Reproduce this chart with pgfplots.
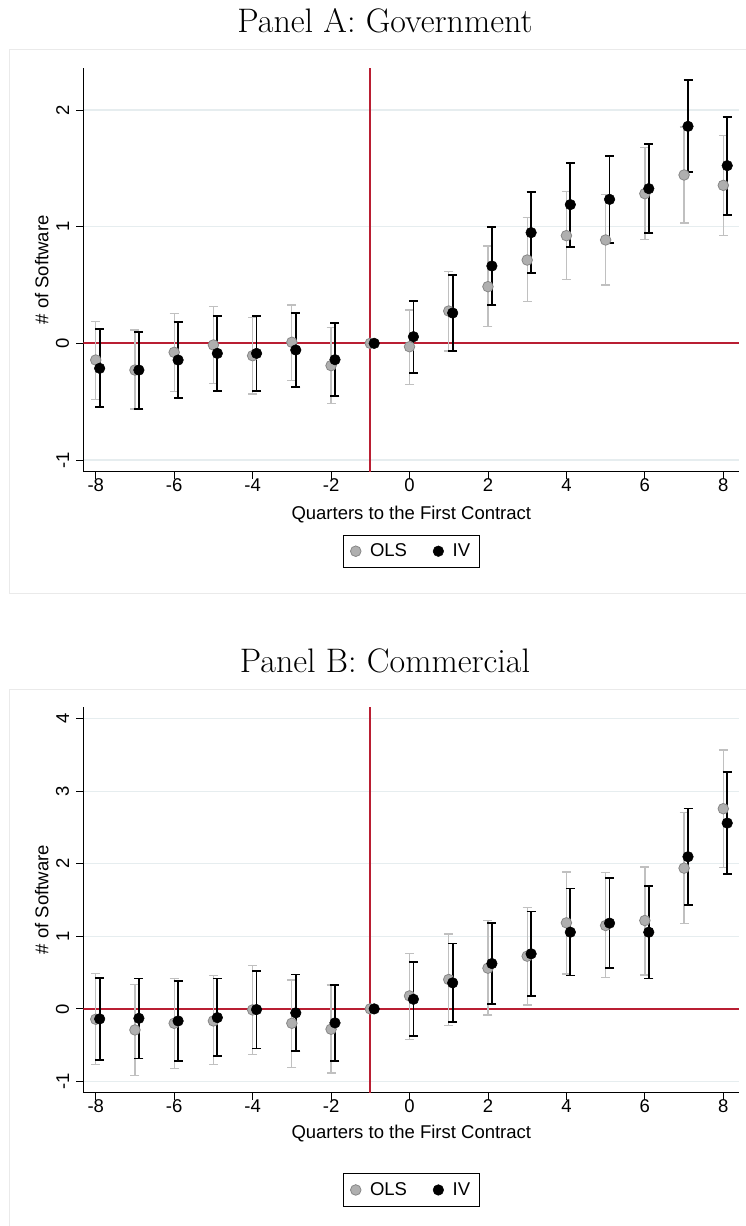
\documentclass[border=0pt]{standalone}
\usepackage{pgfplots}
\usepackage{pgfplotstable}
\pgfplotsset{compat=1.18}
\usepackage{fontspec}
\newfontfamily\sansf{Liberation Sans}
\definecolor{refred}{RGB}{185,30,50}
\definecolor{gridc}{RGB}{230,237,239}
\definecolor{framec}{RGB}{234,234,234}
\definecolor{olsfill}{RGB}{175,175,175}
\definecolor{olsdraw}{RGB}{135,135,135}
\definecolor{olsbar}{RGB}{192,192,192}

\pgfplotstableread{
x y lo hi
-8 -0.143 -0.48 0.19
-7 -0.229 -0.563 0.114
-6 -0.077 -0.41 0.257
-5 -0.014 -0.343 0.317
-4 -0.106 -0.434 0.223
-3 0.009 -0.32 0.329
-2 -0.191 -0.514 0.134
-1 0 0 0
0 -0.029 -0.351 0.286
1 0.277 -0.066 0.614
2 0.486 0.143 0.834
3 0.714 0.357 1.077
4 0.923 0.549 1.303
5 0.886 0.5 1.274
6 1.283 0.891 1.68
7 1.443 1.031 1.854
8 1.354 0.926 1.78
}\olsA

\pgfplotstableread{
x y lo hi
-7.9 -0.214 -0.546 0.125
-6.9 -0.229 -0.56 0.1
-5.9 -0.143 -0.469 0.186
-4.9 -0.086 -0.406 0.237
-3.9 -0.086 -0.406 0.231
-2.9 -0.057 -0.371 0.26
-1.9 -0.14 -0.451 0.171
-0.9 0 0 0
0.1 0.057 -0.251 0.363
1.1 0.26 -0.066 0.586
2.1 0.663 0.329 1.0
3.1 0.949 0.606 1.294
4.1 1.189 0.829 1.543
5.1 1.234 0.863 1.603
6.1 1.326 0.943 1.706
7.1 1.86 1.466 2.254
8.1 1.523 1.1 1.94
}\ivA

\pgfplotstableread{
x y lo hi
-8 -0.143 -0.77 0.49
-7 -0.29 -0.92 0.34
-6 -0.198 -0.823 0.42
-5 -0.166 -0.77 0.46
-4 -0.014 -0.625 0.6
-3 -0.198 -0.805 0.4
-2 -0.28 -0.883 0.33
-1 0 0 0
0 0.179 -0.418 0.768
1 0.405 -0.225 1.034
2 0.561 -0.083 1.214
3 0.727 0.055 1.398
4 1.186 0.483 1.885
5 1.149 0.428 1.876
6 1.218 0.469 1.954
7 1.94 1.177 2.708
8 2.759 1.949 3.568
}\olsB

\pgfplotstableread{
x y lo hi
-7.9 -0.138 -0.70 0.43
-6.9 -0.13 -0.685 0.42
-5.9 -0.166 -0.713 0.38
-4.9 -0.12 -0.653 0.42
-3.9 -0.009 -0.547 0.524
-2.9 -0.055 -0.58 0.473
-1.9 -0.193 -0.713 0.33
-0.9 0 0 0
0.1 0.133 -0.377 0.644
1.1 0.359 -0.184 0.9
2.1 0.625 0.064 1.186
3.1 0.759 0.179 1.343
4.1 1.057 0.46 1.66
5.1 1.182 0.566 1.8
6.1 1.057 0.418 1.697
7.1 2.097 1.434 2.763
8.1 2.561 1.862 3.265
}\ivB

\pgfplotsset{
  panel/.style={
    scale only axis, width=656pt,
    xmin=-8.317, xmax=8.408,
    axis x line*=bottom, axis y line*=left,
    axis line style={black, line width=0.9pt},
    tick align=outside, major tick length=7pt,
    tick style={black, line width=0.9pt},
    xtick={-8,-6,...,8},
    ymajorgrids, major grid style={gridc, line width=1.3pt},
    /pgf/number format/assume math mode=true,
    ticklabel style={font=\sansf\fontsize{18.5}{22}\selectfont},
    yticklabel style={rotate=90, anchor=south, inner sep=0pt},
    yticklabel shift=7pt,
    xticklabel style={anchor=north, inner sep=0pt},
    label style={font=\sansf\fontsize{18.5}{22}\selectfont},
    xlabel={Quarters to the First Contract},
    ylabel={\# of Software},
    ylabel style={at={(axis description cs:-0.0534,0.5)}, anchor=base},
    legend columns=2,
    legend style={draw=black, line width=0.8pt, font=\sansf\fontsize{18.5}{22}\selectfont,
      /tikz/every odd column/.append style={column sep=7pt},
      /tikz/every even column/.append style={column sep=24pt},
      inner xsep=7pt, inner ysep=7pt, anchor=center},
  },
  ols/.style={only marks, mark=*, mark size=5.3pt, olsbar,
    mark options={fill=olsfill, draw=olsdraw, line width=0.8pt},
    error bars/.cd, y dir=both, y explicit,
    error bar style={olsbar, line width=1.3pt},
    error mark options={olsbar, line width=1.3pt, mark size=4.5pt, rotate=90}},
  iv/.style={only marks, mark=*, mark size=5.3pt, black,
    mark options={fill=black, draw=black, line width=0.5pt},
    error bars/.cd, y dir=both, y explicit,
    error bar style={black, line width=1.8pt},
    error mark options={black, line width=1.8pt, mark size=4.5pt, rotate=90}},
}

\begin{document}
\begin{tikzpicture}[x=1pt,y=1pt]
\useasboundingbox (0,0) rectangle (746,1226);
% frames
\draw[framec, line width=1pt] (760,1176.7) -- (9.3,1176.7) -- (9.3,632) -- (760,632);
\draw[framec, line width=1pt] (760,536.7) -- (9.3,536.7) -- (9.3,-10);
% titles
\node[anchor=base, font=\fontsize{34}{40}\selectfont] at (385,1193.3) {Panel A: Government};
\node[anchor=base, font=\fontsize{34}{40}\selectfont] at (385,553.3) {Panel B: Commercial};

\begin{axis}[panel, at={(83.3pt,754.3pt)}, anchor=south west, height=403.7pt,
  ymin=-1.1, ymax=2.36, ytick={-1,0,1,2},
  xlabel style={at={(axis description cs:0.5,-0.1179)}, anchor=base},
  legend style={at={(0.5,-0.197)}}]
\draw[refred, line width=1.6pt] (axis cs:-1,-1.1) -- (axis cs:-1,2.36);
\draw[refred, line width=1.6pt] (axis cs:-8.317,0.004) -- (axis cs:8.408,0.004);
\addplot[ols] table[x=x, y=y, y error plus expr=\thisrow{hi}-\thisrow{y}, y error minus expr=\thisrow{y}-\thisrow{lo}] {\olsA};
\addplot[iv] table[x=x, y=y, y error plus expr=\thisrow{hi}-\thisrow{y}, y error minus expr=\thisrow{y}-\thisrow{lo}] {\ivA};
\legend{OLS, IV}
\end{axis}

\begin{axis}[panel, at={(83.3pt,133.3pt)}, anchor=south west, height=386pt,
  ymin=-1.155, ymax=4.165, ytick={-1,0,1,2,3,4},
  xlabel style={at={(axis description cs:0.5,-0.118)}, anchor=base},
  legend style={at={(0.5,-0.252)}}]
\draw[refred, line width=1.6pt] (axis cs:-1,-1.155) -- (axis cs:-1,4.165);
\draw[refred, line width=1.6pt] (axis cs:-8.317,0) -- (axis cs:8.408,0);
\addplot[ols] table[x=x, y=y, y error plus expr=\thisrow{hi}-\thisrow{y}, y error minus expr=\thisrow{y}-\thisrow{lo}] {\olsB};
\addplot[iv] table[x=x, y=y, y error plus expr=\thisrow{hi}-\thisrow{y}, y error minus expr=\thisrow{y}-\thisrow{lo}] {\ivB};
\legend{OLS, IV}
\end{axis}
\end{tikzpicture}
\end{document}
